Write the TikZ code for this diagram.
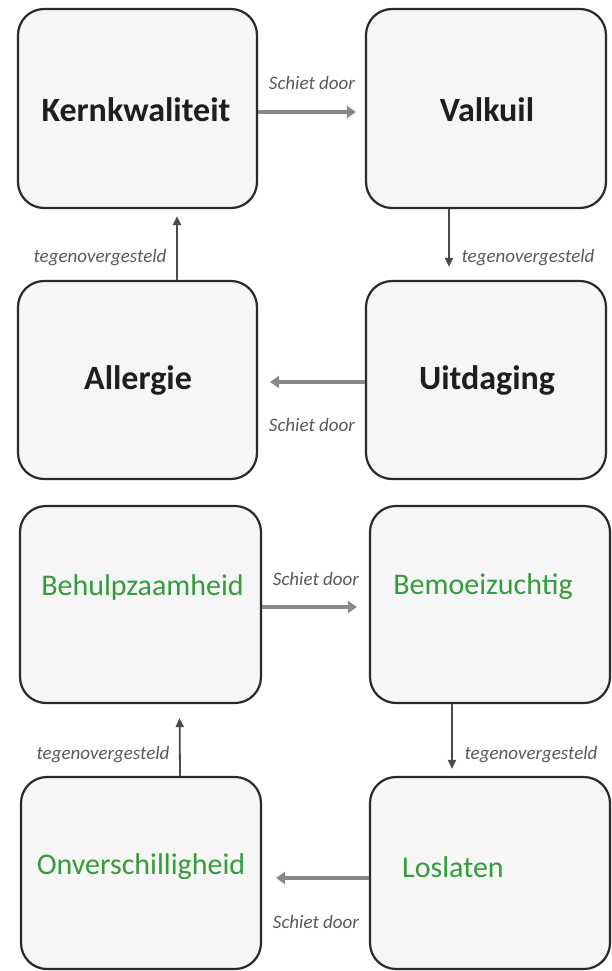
\documentclass[tikz,border=0pt]{standalone}
\usepackage{fontspec}
\setmainfont{Carlito}
\usetikzlibrary{arrows.meta}
\definecolor{boxfill}{HTML}{F6F6F6}
\definecolor{boxline}{HTML}{2A2A2A}
\definecolor{labelgray}{HTML}{5A5A5A}
\definecolor{thickgray}{HTML}{888888}
\definecolor{thingray}{HTML}{4A4A4A}
\definecolor{darktext}{HTML}{1E1E1E}
\definecolor{greentext}{RGB}{52,156,60}
\tikzset{
  card/.style={draw=boxline, line width=2.2pt, fill=boxfill, rounded corners=26pt, inner sep=0pt},
  mainlabel/.style={font=\fontsize{34}{40}\selectfont\bfseries, text=darktext, inner sep=0pt},
  greenlabel/.style={font=\fontsize{30}{36}\selectfont, text=greentext, inner sep=0pt},
  edgelabel/.style={font=\fontsize{19}{22}\selectfont\itshape, text=labelgray, inner sep=0pt},
  thickarrow/.style={draw=thickgray, line width=4.5pt, -{Triangle[length=9pt,width=12pt]}},
  thinarrow/.style={draw=thingray, line width=1.8pt, -{Triangle[length=9pt,width=8pt]}}
}
\begin{document}
\begin{tikzpicture}[x=1pt,y=-1pt]
\fill[white] (0,0) rectangle (611,971);
\useasboundingbox (0,0) rectangle (611,971);
% boxes
\node[card, minimum width=239pt, minimum height=199pt] (b1) at (137.5,108.5) {};
\node[card, minimum width=240pt, minimum height=199pt] (b2) at (486,108.5) {};
\node[card, minimum width=239pt, minimum height=198pt] (b3) at (137.5,380) {};
\node[card, minimum width=240pt, minimum height=198pt] (b4) at (486,380) {};
\node[card, minimum width=241pt, minimum height=197pt] (b5) at (140.5,604.5) {};
\node[card, minimum width=240pt, minimum height=197pt] (b6) at (490,604.5) {};
\node[card, minimum width=240pt, minimum height=192pt] (b7) at (141,873) {};
\node[card, minimum width=240pt, minimum height=192pt] (b8) at (490,873) {};
% box texts
\node[mainlabel] (t1) at (136,110) {Kernkwaliteit};
\node[mainlabel] (t2) at (487,110) {Valkuil};
\node[mainlabel] (t3) at (138,380) {Allergie};
\node[mainlabel] (t4) at (487,380) {Uitdaging};
\node[greenlabel] (t5) at (142.5,587) {Behulpzaamheid};
\node[greenlabel] (t6) at (483,587) {Bemoeizuchtig};
\node[greenlabel] (t7) at (141,867) {Onverschilligheid};
\node[greenlabel] (t8) at (453,867) {Loslaten};
% horizontal arrows
\draw[thickarrow, shorten >=9pt] ([yshift=-3.5pt]b1.east) -- ([yshift=-3.5pt]b2.west);
\draw[thickarrow, shorten >=12pt] ([yshift=-2pt]b4.west) -- ([yshift=-2pt]b3.east);
\draw[thickarrow, shorten >=12pt] ([yshift=-2.5pt]b5.east) -- ([yshift=-2.5pt]b6.west);
\draw[thickarrow, shorten >=14pt] ([yshift=-5pt]b8.west) -- ([yshift=-5pt]b7.east);
% vertical arrows
\draw[thinarrow, shorten >=7pt] ([xshift=39.5pt]b3.north) -- ([xshift=39.5pt]b1.south);
\draw[thinarrow, shorten >=13pt] ([xshift=-37pt]b2.south) -- ([xshift=-37pt]b4.north);
\draw[thinarrow, shorten >=14pt] ([xshift=39pt]b7.north) -- ([xshift=39pt]b5.south);
\draw[thinarrow, shorten >=7pt] ([xshift=-38pt]b6.south) -- ([xshift=-38pt]b8.north);
% edge labels
\node[edgelabel] (s1) at (312,83) {Schiet door};
\node[edgelabel] (s2) at (312,425) {Schiet door};
\node[edgelabel] (s3) at (316,579) {Schiet door};
\node[edgelabel] (s4) at (316,922) {Schiet door};
\node[edgelabel] (g1) at (100,258) {tegenovergesteld};
\node[edgelabel] (g2) at (528,258) {tegenovergesteld};
\node[edgelabel] (g3) at (103,755) {tegenovergesteld};
\node[edgelabel] (g4) at (531,755) {tegenovergesteld};
\end{tikzpicture}
\end{document}
